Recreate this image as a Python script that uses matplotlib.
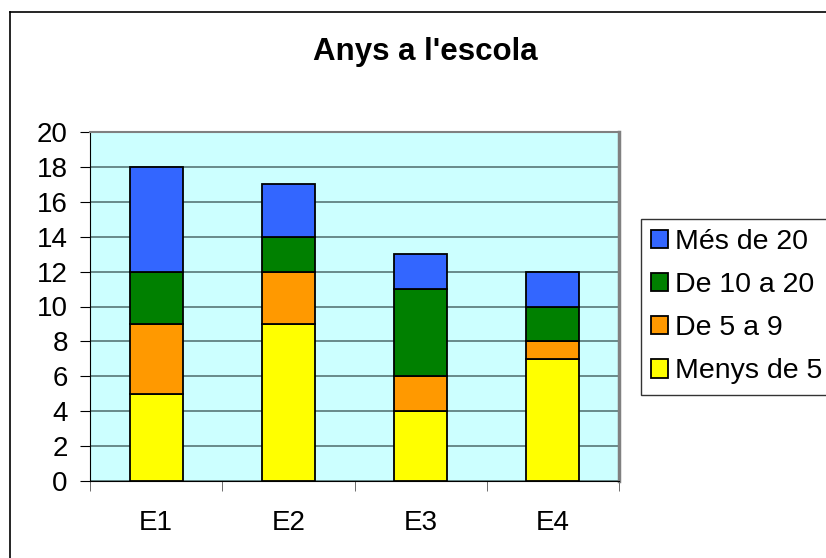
import matplotlib
matplotlib.use("Agg")
import matplotlib.pyplot as plt
from matplotlib.lines import Line2D
import numpy as np

plt.rcParams['font.family'] = ['Liberation Sans', 'DejaVu Sans']

categories = ["E1", "E2", "E3", "E4"]
series_names = ["Menys de 5", "De 5 a 9", "De 10 a 20", "Més de 20"]
menys_de_5 = [5, 9, 4, 7]
de_5_a_9 = [4, 3, 2, 1]
de_10_a_20 = [3, 2, 5, 2]
mes_de_20 = [6, 3, 2, 2]
colors = ["#FFFF00", "#FF9900", "#008000", "#3366FF"]
yticks = list(range(0, 21, 2))

W, H = 826, 558
fig = plt.figure(figsize=(W / 100, H / 100), dpi=100)

# outer chart frame (top & left visible, rest beyond image)
fig.add_artist(Line2D([10 / W, 1.0], [1 - 12 / H, 1 - 12 / H], transform=fig.transFigure, color="black", lw=1.2))
fig.add_artist(Line2D([10 / W, 10 / W], [0, 1 - 12 / H], transform=fig.transFigure, color="black", lw=1.2))

left, right, top, bottom = 90, 619, 132, 481
ax = fig.add_axes([left / W, 1 - bottom / H, (right - left) / W, (bottom - top) / H])
ax.set_facecolor("#CCFFFF")

x = np.arange(len(categories))
ax.set_xlim(-0.5, len(categories) - 0.5)
ax.set_ylim(0, 20)
ax.set_yticks(yticks)
ax.yaxis.grid(True, color="#4D6B6B", lw=1.1)
ax.set_axisbelow(True)

data = [menys_de_5, de_5_a_9, de_10_a_20, mes_de_20]
bottoms = np.zeros(len(categories))
handles = []
for name, vals, c in zip(series_names, data, colors):
    b = ax.bar(x, vals, width=0.4, bottom=bottoms, color=c, edgecolor="black", lw=1.3, label=name, zorder=3)
    handles.append(b)
    bottoms += np.array(vals)

for s in ["top", "right"]:
    ax.spines[s].set_color("#808080")
    ax.spines[s].set_linewidth(1.5)
ax.spines["right"].set_linewidth(2.5)
ax.spines["left"].set_color("black")
ax.spines["bottom"].set_color("black")

ax.set_xticks(x)
ax.set_xticklabels(categories)
ax.tick_params(axis="x", length=0, pad=21, labelsize=20)
ax.set_xticks(np.arange(-0.5, len(categories), 1.0), minor=True)
ax.tick_params(axis="x", which="minor", length=7, direction="out", color="#555555")
ax.tick_params(axis="y", length=7, direction="out", labelsize=20, pad=9)

fig.text(425 / W, 1 - 52 / H, "Anys a l'escola", ha="center", va="center", fontsize=22.5, fontweight="bold")

leg = fig.legend(handles[::-1], series_names[::-1], loc="upper left",
                 bbox_to_anchor=(641 / W, 1 - 219 / H), fontsize=20.5, frameon=True,
                 fancybox=False, edgecolor="black", handlelength=0.6, handleheight=0.6,
                 handletextpad=0.22, labelspacing=0.6, borderpad=0.36, borderaxespad=0)
leg.get_frame().set_linewidth(1.0)

fig.savefig("out.png", dpi=100)
